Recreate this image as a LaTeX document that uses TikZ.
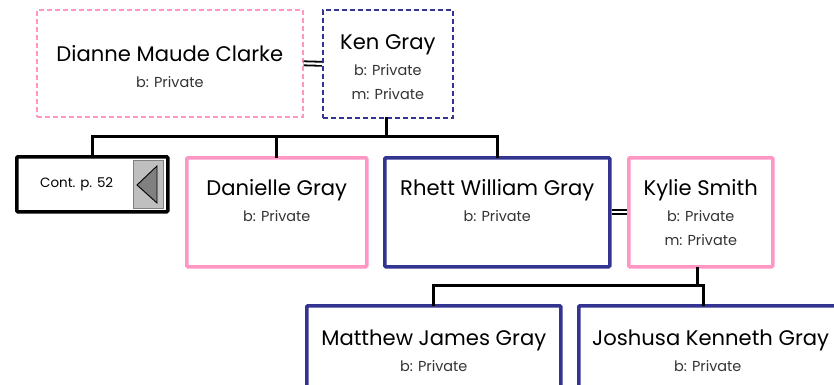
\documentclass[tikz,border=0pt]{standalone}
\usepackage{fontspec}
\setmainfont{Poppins}
\usetikzlibrary{calc,positioning}

\definecolor{boypen}{RGB}{51,51,145}
\definecolor{girlpen}{RGB}{255,150,196}

\tikzset{
    box/.style={rectangle, anchor=north west, inner sep=0pt, rounded corners=1pt},
    malebox/.style={box, draw=boypen, line width=3.5bp},
    femalebox/.style={box, draw=girlpen, line width=3.5bp},
    maleghost/.style={box, draw=boypen, line width=1.6bp, dash pattern=on 5bp off 3bp, rounded corners=0pt},
    femaleghost/.style={box, draw=girlpen, line width=1.6bp, dash pattern=on 5bp off 3bp, rounded corners=0pt},
    pname/.style={anchor=base, inner sep=0pt, font=\fontsize{21.2}{24}\selectfont},
    pinfo/.style={anchor=base, inner sep=0pt, font=\fontsize{14.5}{16}\selectfont, text=black!80},
    tree/.style={line width=3bp, line cap=rect},
    couple/.style={double, double distance=2.2bp, line width=1.8bp}
}

\begin{document}
\begin{tikzpicture}[x=1bp,y=-1bp]
    \useasboundingbox (0,0) rectangle (834,384);

    % Parents
    \node[femaleghost, minimum width=266bp, minimum height=107bp] (dianne) at (36,9) {};
    \node[maleghost, minimum width=130bp, minimum height=108bp] (ken) at (322,9) {};
    \node[pname] (dianne-n) at ($(dianne.north)+(0,52)$) {Dianne Maude Clarke};
    \node[pinfo] (dianne-b) at ($(dianne-n.base)+(0,26)$) {b: Private};
    \node[pname] (ken-n) at ($(ken.north)+(0,40)$) {Ken Gray};
    \node[pinfo] (ken-b) at ($(ken-n.base)+(0,26)$) {b: Private};
    \node[pinfo] (ken-m) at ($(ken-b.base)+(0,24)$) {m: Private};
    \draw[couple] (dianne.east) -- (ken.west);

    % Children
    \node[box, draw=black, line width=3.5bp, minimum width=151bp, minimum height=55bp] (cont) at (15,155) {};
    \node[anchor=west, inner sep=0pt, font=\fontsize{13.5}{16}\selectfont] (cont-t) at ($(cont.west)+(25,0)$) {Cont. p. 52};
    \node[box, fill=black!25, draw=black!50, line width=0.8bp, minimum width=30bp, minimum height=48bp, rounded corners=0pt] (cont-arrow) at (133,160) {};
    \draw[fill=black!50, line width=0.9bp] (137,185) -- (157,166) -- (157,203) -- cycle;
    \node[femalebox, minimum width=180bp, minimum height=109bp] (danielle) at (185,156) {};
    \node[malebox, minimum width=225bp, minimum height=109bp] (rhett) at (383,156) {};
    \node[femalebox, minimum width=144bp, minimum height=109bp] (kylie) at (627,156) {};
    \node[pname] (danielle-n) at ($(danielle.north)+(0,39)$) {Danielle Gray};
    \node[pinfo] (danielle-b) at ($(danielle-n.base)+(0,26)$) {b: Private};
    \node[pname] (rhett-n) at ($(rhett.north)+(0,39)$) {Rhett William Gray};
    \node[pinfo] (rhett-b) at ($(rhett-n.base)+(0,26)$) {b: Private};
    \node[pname] (kylie-n) at ($(kylie.north)+(0,39)$) {Kylie Smith};
    \node[pinfo] (kylie-b) at ($(kylie-n.base)+(0,26)$) {b: Private};
    \node[pinfo] (kylie-m) at ($(kylie-b.base)+(0,24)$) {m: Private};
    \draw[couple] (rhett.east) -- (kylie.west);

    % Grandchildren
    \node[malebox, minimum width=254bp, minimum height=120bp] (matthew) at (305,304) {};
    \node[malebox, minimum width=270bp, minimum height=120bp] (joshusa) at (577,304) {};
    \node[pname] (matthew-n) at ($(matthew.north)+(0,41)$) {Matthew James Gray};
    \node[pinfo] (matthew-b) at ($(matthew-n.base)+(0,26)$) {b: Private};
    \node[pname, anchor=base west] (joshusa-n) at ($(joshusa.north west)+(15,41)$) {Joshusa Kenneth Gray};
    \node[pinfo] (joshusa-b) at ($(joshusa.north)+(-6,67)$) {b: Private};

    % Lines of descent
    \coordinate (fam1) at (386,136);
    \coordinate (fam2) at (697,285);
    \draw[tree] (fam1 |- ken.south) -- (fam1);
    \draw[tree] (cont.north) -- (cont.north |- fam1) -| (rhett.north);
    \draw[tree] (danielle.north) -- (danielle.north |- fam1);
    \draw[tree] (fam2 |- kylie.south) -- (fam2);
    \draw[tree] (matthew.north) -- (matthew.north |- fam2) -| ([xshift=-10bp]joshusa.north);
\end{tikzpicture}
\end{document}
